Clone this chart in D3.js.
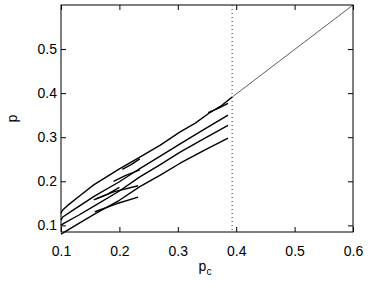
<!DOCTYPE html>
<html><head><meta charset="utf-8">
<script src="https://cdn.jsdelivr.net/npm/d3@7"></script>
<style>body{margin:0;background:#fff}svg{display:block}text{font-family:"Liberation Sans",Arial,sans-serif}</style>
</head><body>
<script>
// data
const xTicks = [0.1, 0.2, 0.3, 0.4, 0.5, 0.6];
const yTicks = [0.1, 0.2, 0.3, 0.4, 0.5];
const criticalPc = 0.393;
const branchA = [[0.1,0.127],[0.102,0.134],[0.112,0.146],[0.135,0.17],[0.156,0.192],[0.2,0.228],[0.235,0.255],[0.27,0.282],[0.304,0.312],[0.33,0.332],[0.355,0.356],[0.375,0.372],[0.393,0.391]];
const diagonal = [[0.393,0.391],[0.6,0.6]];
const branchB = [[0.1,0.112],[0.103,0.119],[0.12,0.134],[0.158,0.167],[0.2,0.199],[0.235,0.229],[0.27,0.257],[0.304,0.285],[0.345,0.318],[0.386,0.35]];
const branchC = [[0.1,0.1],[0.104,0.104],[0.13,0.123],[0.158,0.145],[0.2,0.178],[0.235,0.21],[0.27,0.238],[0.304,0.266],[0.345,0.297],[0.386,0.327]];
const branchD = [[0.1,0.08],[0.13,0.104],[0.158,0.126],[0.2,0.157],[0.235,0.188],[0.27,0.214],[0.304,0.241],[0.345,0.27],[0.386,0.298]];
const short1 = [[0.156,0.158],[0.19,0.176],[0.232,0.19]];
const short2 = [[0.158,0.131],[0.195,0.149],[0.232,0.164]];
const wedge1 = [[0.352,0.356],[0.37,0.366],[0.386,0.377]];
const wedge2 = [[0.205,0.227],[0.22,0.238],[0.235,0.251]];
const wedge3 = [[0.19,0.2],[0.21,0.213],[0.235,0.226]];
const wedge4 = [[0.16,0.16],[0.18,0.171],[0.2,0.186]];
const curves = [branchA, branchB, branchC, branchD, short1, short2, wedge1, wedge2, wedge3, wedge4];

const W = 371, H = 296;
const m = {l:61, r:18, t:5, b:64};
const svg = d3.select("body").append("svg").attr("width", W).attr("height", H);
const x = d3.scaleLinear().domain([0.1, 0.6]).range([m.l, W - m.r]);
const y = d3.scaleLinear().domain([0.085, 0.6]).range([H - m.b, m.t]);
const line = d3.line().x(d => x(d[0])).y(d => y(d[1]));

const g = svg.append("g");
g.append("line").attr("x1", x(criticalPc)).attr("x2", x(criticalPc))
  .attr("y1", y(0.6)).attr("y2", y(0.085))
  .attr("stroke", "#333").attr("stroke-width", 1).attr("stroke-dasharray", "1,3");
g.append("path").attr("d", line(diagonal)).attr("fill", "none").attr("stroke", "#333").attr("stroke-width", 0.8);
curves.forEach(c => g.append("path").attr("d", line(c)).attr("fill", "none")
  .attr("stroke", "#000").attr("stroke-width", 1.4).attr("stroke-linejoin", "round"));

const fs = 14;
const xa = svg.append("g").attr("transform", `translate(0,${H - m.b})`)
  .call(d3.axisBottom(x).tickValues(xTicks).tickFormat(d3.format(".1f")).tickSize(-5).tickPadding(14));
const ya = svg.append("g").attr("transform", `translate(${m.l},0)`)
  .call(d3.axisLeft(y).tickValues(yTicks).tickFormat(d3.format(".1f")).tickSize(-5).tickPadding(4));
const xt = svg.append("g").attr("transform", `translate(0,${m.t})`)
  .call(d3.axisTop(x).tickValues(xTicks).tickFormat("").tickSize(-5));
const yr = svg.append("g").attr("transform", `translate(${W - m.r},0)`)
  .call(d3.axisRight(y).tickValues(yTicks).tickFormat("").tickSize(-5));
[xa, ya, xt, yr].forEach(a => {
  a.select(".domain").remove();
  a.selectAll("line").attr("stroke", "#000");
  a.selectAll("text").attr("font-size", fs).attr("fill", "#000").attr("font-family", "Liberation Sans, Arial, sans-serif");
});
svg.append("rect").attr("x", m.l).attr("y", m.t).attr("width", W - m.r - m.l).attr("height", H - m.b - m.t)
  .attr("fill", "none").attr("stroke", "#000").attr("stroke-width", 1);

const xl = svg.append("text").attr("x", 205).attr("y", 271).attr("font-size", fs).attr("text-anchor", "middle");
xl.append("tspan").text("p");
xl.append("tspan").attr("font-size", 10).attr("dy", 4).text("c");
svg.append("text").attr("transform", `translate(17,${(m.t + H - m.b) / 2}) rotate(-90)`)
  .attr("text-anchor", "middle").attr("font-size", fs).text("p");
</script>
</body></html>
